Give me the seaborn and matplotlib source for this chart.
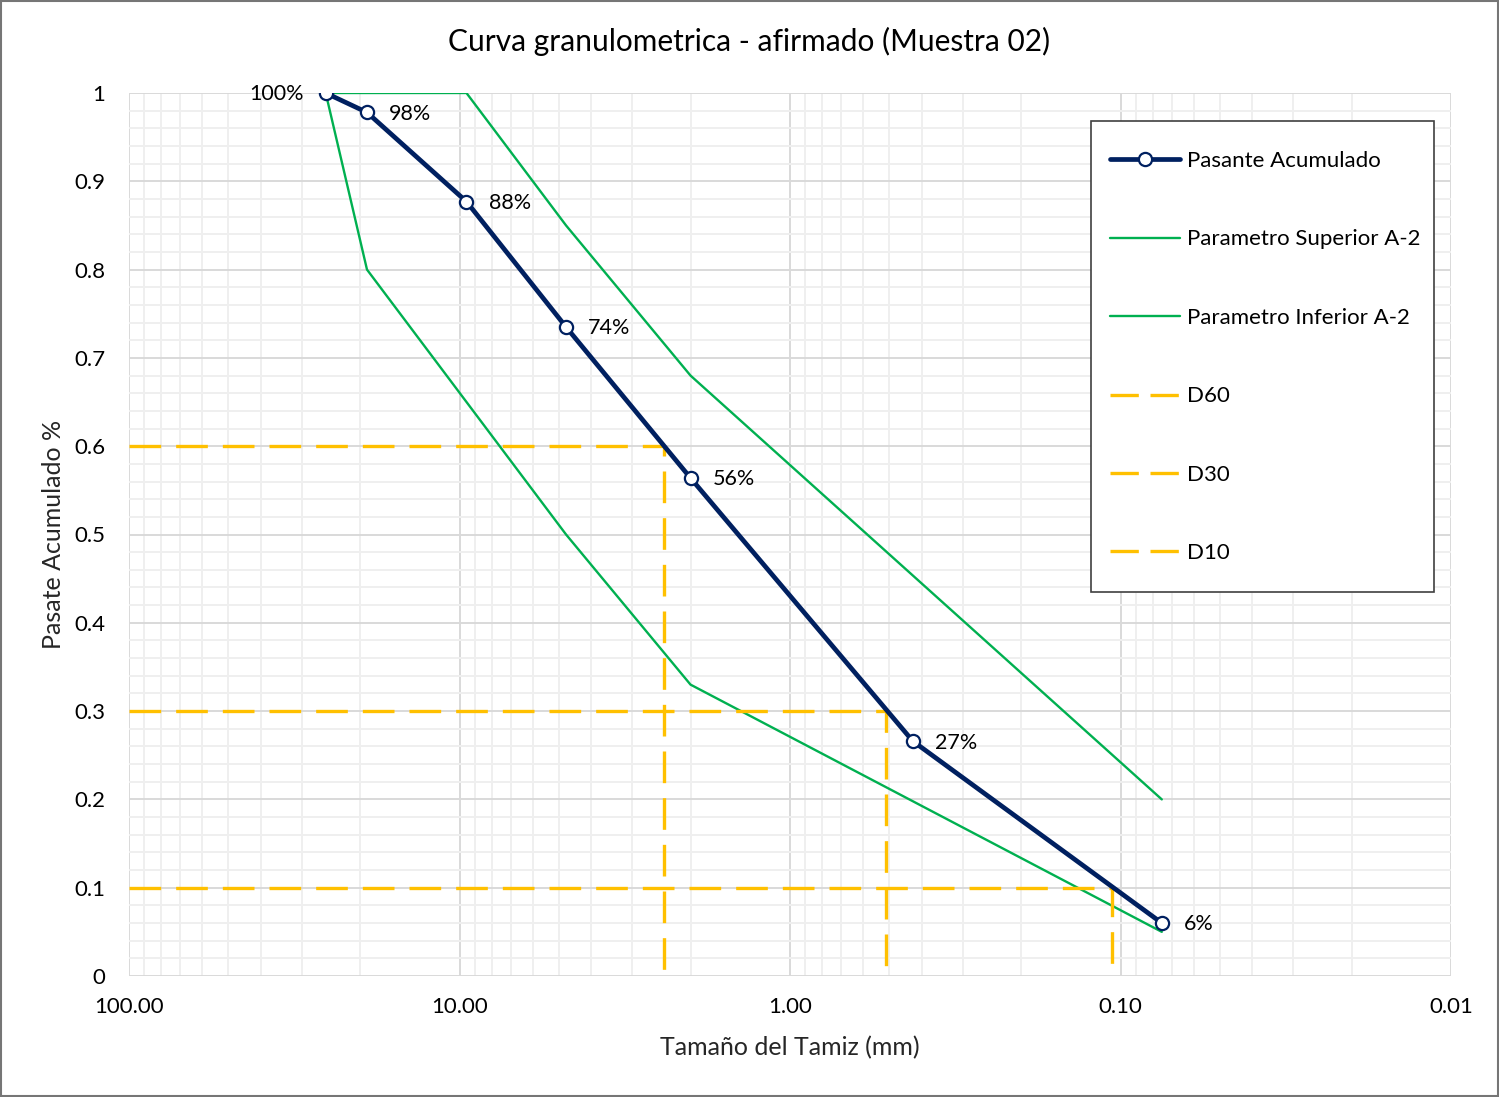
import matplotlib
matplotlib.use("Agg")
import numpy as np
import pandas as pd
import matplotlib.pyplot as plt
import seaborn as sns
from matplotlib.ticker import FixedLocator, LogLocator, MultipleLocator, NullFormatter, FixedFormatter
from matplotlib.patches import Rectangle
from matplotlib.lines import Line2D

# Sieve analysis, sample 02
sieve_mm = [25.4, 19.05, 9.525, 4.76, 2.0, 0.425, 0.075]
passing = [1.00, 0.978, 0.877, 0.735, 0.564, 0.266, 0.060]

# A-2 gradation band
upper_mm = [25.4, 9.525, 4.76, 2.0, 0.075]
upper_pass = [1.00, 1.00, 0.85, 0.68, 0.20]
lower_mm = [25.4, 19.05, 4.76, 2.0, 0.075]
lower_pass = [1.00, 0.80, 0.50, 0.33, 0.05]

# Characteristic diameters
d_names = ["D60", "D30", "D10"]
d_levels = [0.60, 0.30, 0.10]
d_sizes = [2.40, 0.513, 0.106]

x_ticks = [100, 10, 1, 0.1, 0.01]
x_tick_labels = ["100.00", "10.00", "1.00", "0.10", "0.01"]
y_ticks = [0, 0.1, 0.2, 0.3, 0.4, 0.5, 0.6, 0.7, 0.8, 0.9, 1.0]
y_tick_labels = ["0", "0.1", "0.2", "0.3", "0.4", "0.5", "0.6", "0.7", "0.8", "0.9", "1"]

NAVY = "#002060"
GREEN = "#00B050"
GOLD = "#FFC000"

sns.set_theme(style="white")
plt.rcParams["font.family"] = ["Lato", "DejaVu Sans"]
plt.rcParams["text.color"] = "#000000"

fig = plt.figure(figsize=(14.99, 10.97), dpi=100)
W, H = 1499, 1097
ax = fig.add_axes([129 / W, 1 - 976 / H, (1451 - 129) / W, (976 - 93) / H])

ax.set_xscale("log")

df_pass = pd.DataFrame({"mm": sieve_mm, "pass": passing})
df_up = pd.DataFrame({"mm": upper_mm, "pass": upper_pass})
df_low = pd.DataFrame({"mm": lower_mm, "pass": lower_pass})

sns.lineplot(data=df_up, x="mm", y="pass", sort=False, color=GREEN, lw=1.7, ax=ax, zorder=3)
sns.lineplot(data=df_low, x="mm", y="pass", sort=False, color=GREEN, lw=1.7, ax=ax, zorder=3)

dash = (9.5, 4.5)
for lvl, size in zip(d_levels, d_sizes):
    ax.plot([100, size, size], [lvl, lvl, 0], color=GOLD, lw=2.4, dashes=dash,
            solid_capstyle="butt", dash_capstyle="butt", zorder=3)

sns.lineplot(data=df_pass, x="mm", y="pass", sort=False, color=NAVY, lw=3.4, ax=ax,
             marker="o", markersize=9.5, markerfacecolor="white", markeredgecolor=NAVY,
             markeredgewidth=1.6, zorder=4)

for i, (x, y) in enumerate(zip(sieve_mm, passing)):
    label = f"{y * 100:.0f}%"
    if i == 0:
        ax.annotate(label, (x, y), xytext=(-16, -1), textcoords="offset points",
                    ha="right", va="center", fontsize=15.5, zorder=6)
    else:
        ax.annotate(label, (x, y), xytext=(16, -1), textcoords="offset points",
                    ha="left", va="center", fontsize=15.5, zorder=6)

ax.set_xlim(100, 0.01)
ax.set_ylim(0, 1)
ax.xaxis.set_major_locator(FixedLocator(x_ticks))
ax.xaxis.set_major_formatter(FixedFormatter(x_tick_labels))
ax.xaxis.set_minor_locator(LogLocator(base=10, subs=np.arange(2, 10)))
ax.xaxis.set_minor_formatter(NullFormatter())
ax.yaxis.set_major_locator(FixedLocator(y_ticks))
ax.yaxis.set_major_formatter(FixedFormatter(y_tick_labels))
ax.yaxis.set_minor_locator(MultipleLocator(0.02))

ax.set_axisbelow(True)
ax.grid(which="major", color="#D9D9D9", lw=1.4)
ax.grid(which="minor", color="#EFEFEF", lw=1.4)
ax.tick_params(which="both", length=0, labelsize=16, colors="#000000")
ax.tick_params(axis="x", pad=15)
ax.tick_params(axis="y", pad=17)
for s in ax.spines.values():
    s.set_visible(False)

ax.set_xlabel("Tamaño del Tamiz (mm)", fontsize=18, labelpad=14)
ax.set_ylabel("Pasate Acumulado %", fontsize=18, labelpad=7)
fig.suptitle("Curva granulometrica - afirmado (Muestra 02)", fontsize=21.5,
             x=0.5, y=1 - 41 / H, va="center")

# Legend
handles = [
    Line2D([], [], color=NAVY, lw=3.4, marker="o", markersize=9.5,
           markerfacecolor="white", markeredgecolor=NAVY, markeredgewidth=1.6),
    Line2D([], [], color=GREEN, lw=1.7),
    Line2D([], [], color=GREEN, lw=1.7),
]
for _ in d_names:
    handles.append(Line2D([], [], color=GOLD, lw=2.4, dashes=(8.5, 3.5)))
labels = ["Pasante Acumulado", "Parametro Superior A-2", "Parametro Inferior A-2"] + d_names

box = Rectangle((1091 / W, 1 - 592 / H), (1434 - 1091) / W, (592 - 121) / H,
                transform=fig.transFigure, facecolor="white", edgecolor="#404040",
                lw=1.2, zorder=5)
fig.patches.append(box)
leg = fig.legend(handles, labels, loc="upper left",
                 bbox_to_anchor=(1110 / W, 1 - 151 / H), frameon=False,
                 fontsize=16, borderpad=0, borderaxespad=0,
                 handlelength=3.15, handletextpad=0.3, labelspacing=2.63)
leg.set_zorder(6)

fig.patches.append(Rectangle((0.0007, 0.001), 0.9986, 0.998, transform=fig.transFigure,
                             fill=False, edgecolor="#767676", lw=1.5))

fig.savefig("out.png", dpi=100, facecolor="white")
